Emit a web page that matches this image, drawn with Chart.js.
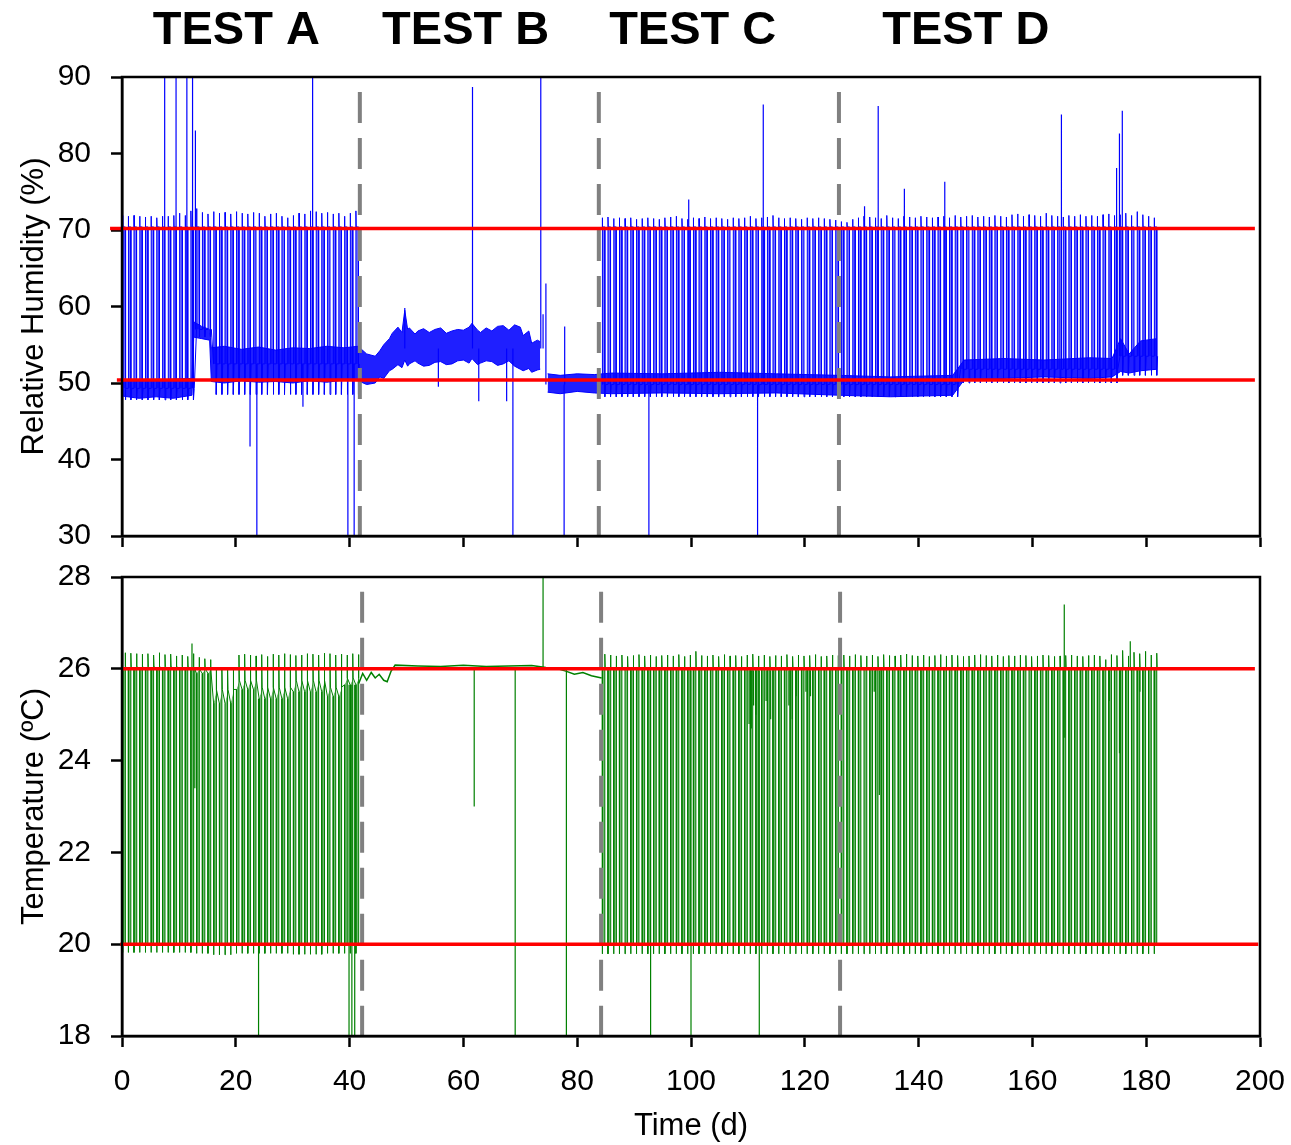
<!DOCTYPE html>
<html lang="en">

<head>
    <meta charset="UTF-8">
    <title>Relative humidity and temperature - Tests A to D</title>
    <script src="https://cdn.jsdelivr.net/npm/chart.js"></script>
    <style>
        body { margin: 0; background: #fff; }
        .wrap { position: relative; width: 1291px; height: 1145px; }
        #rhBox { position: absolute; left: 0; top: 0; width: 1291px; height: 550px; }
        #tBox { position: absolute; left: 0; top: 550px; width: 1291px; height: 595px; }
    </style>
</head>

<body>
    <div class="wrap">
        <div id="rhBox"><canvas id="rhChart"></canvas></div>
        <div id="tBox"><canvas id="tChart"></canvas></div>
    </div>
    <script>
        // ---- data ----
        const testNames = ['TEST A', 'TEST B', 'TEST C', 'TEST D'];
        const testNameDays = [20.1, 60.4, 100.3, 148.3];
        const rhDividers = [41.8, 83.8, 126.0];
        const tDividers = [42.2, 84.2, 126.2];
        const rhLimits = [70.2, 50.4];
        const tLimits = [26.0, 20.0];

        // daily cold phases: first one of Test A and first one of Tests C-D (days)
        const cycleStart = [0.1, 84.4];
        const coldLength = 0.45;

        // relative humidity (%) reached at the start of each cold phase
        const rhPeakA = [
            71.9, 71.8, 71.9, 71.8, 71.7, 71.8, 71.6, 71.8, 71.8, 71.9,
            72.2, 71.9, 72.5, 72.8, 72.3, 72.1, 72.4, 72.2, 72.3, 72.1,
            72.4, 72.2, 72.1, 72.3, 72.2, 71.8, 72.1, 72.2, 71.8, 71.6,
            71.9, 72.2, 72.1, 72.5, 72.4, 72.2, 72.3, 72.1, 72.2, 71.8,
            72.2, 72.5
        ];
        const rhPeakCD = [
            71.6, 71.7, 71.5, 71.6, 71.5, 71.6, 71.4, 71.5, 71.6, 71.5,
            71.4, 71.6, 71.7, 71.8, 71.5, 71.4, 71.6, 71.5, 71.7, 71.5,
            71.6, 71.5, 71.4, 71.6, 71.5, 71.6, 71.8, 71.5, 71.6, 71.7,
            71.9, 71.6, 71.5, 71.6, 71.5, 71.4, 71.6, 71.5, 71.6, 71.5,
            71.4, 71.3,
            71.1, 71.0, 71.4, 71.6, 71.8, 71.7, 71.6, 71.5, 71.9, 71.6,
            71.5, 71.8, 71.7, 71.6, 71.8, 71.7, 71.6, 71.7, 71.8, 71.6,
            71.9, 71.7, 71.8, 71.9, 71.7, 71.8, 71.7, 71.9, 71.8, 71.7,
            72.0, 72.1, 71.8, 72.0, 71.9, 71.8, 72.2, 71.9, 71.8, 71.7,
            71.9, 71.8, 72.0, 71.8, 71.9, 71.8, 72.0, 72.1, 71.9, 72.0,
            72.2, 71.9, 72.4, 72.0, 71.8, 71.6
        ];
        const rhHold = 70.4;
        // RH level between cold phases (step changes at these days)
        const rhSegDays = [0, 12.5, 15.5, 41.5, 74.5, 147, 175];
        const rhBaseVals = [49.3, 57.0, 52.5, 54.5, 49.8, 51.8, 53.5];
        const rhDipVals = [47.8, 56.0, 48.5, 50.0, 48.2, 50.0, 51.0];

        // envelope of the RH noise band
        const rhBandDays = [0, 3, 6, 9, 12.3, 12.6, 14, 15.4, 15.7, 18,
            21, 24, 27, 30, 33, 36, 39, 41.5, 43, 44.5,
            45.3, 46, 47, 47.5, 48.5, 49.2, 49.7, 50.2, 50.5, 51.5,
            52, 53, 54, 55, 56, 57, 58, 59, 60, 61,
            61.5, 62.5, 63, 64, 65, 66, 67, 68, 69, 70,
            70.5, 71.5, 72, 73, 73.5, 73.6, 74.8, 77, 80, 83,
            86, 95, 105, 115, 126, 135, 146, 148, 155, 162,
            170, 174, 175.5, 177, 179, 181.9];
        const rhBandLo = [48.3, 48.0, 48.2, 48.0, 48.4, 56.0, 55.8, 55.6, 50.2, 50.0,
            50.3, 50.1, 50.2, 50.0, 50.3, 50.1, 50.4, 50.3, 49.8, 50.0,
            50.8, 50.6, 51.6, 51.8, 52.4, 52.0, 53.0, 52.2, 52.5, 52.9,
            52.6, 52.2, 52.3, 52.7, 52.8, 52.4, 52.5, 52.9, 53.0, 52.6,
            53.2, 52.4, 52.6, 52.9, 52.8, 52.3, 52.5, 52.9, 52.2, 51.8,
            51.6, 51.9, 51.4, 51.7, 51.8, null, 48.8, 48.6, 48.9, 48.7,
            48.6, 48.7, 48.6, 48.7, 48.4, 48.2, 48.4, 50.4, 50.6, 50.8,
            50.6, 50.8, 51.5, 51.3, 51.6, 51.8];
        const rhBandHi = [50.2, 50.4, 50.3, 50.5, 50.6, 58.0, 57.4, 57.0, 54.6, 54.8,
            54.4, 54.7, 54.3, 54.6, 54.5, 54.8, 54.6, 54.8, 53.8, 53.5,
            54.2, 55.0, 55.8, 56.5, 57.3, 56.6, 59.5, 57.0, 57.2, 56.4,
            56.8, 57.1, 56.6, 57.0, 57.2, 56.5, 56.8, 57.0, 56.9, 57.3,
            57.8, 56.9, 56.6, 57.2, 56.8, 57.4, 57.5, 56.9, 57.6, 57.3,
            56.2, 56.8, 55.2, 55.6, 55.4, null, 51.2, 51.0, 51.2, 51.1,
            51.3, 51.2, 51.4, 51.2, 51.0, 50.8, 51.0, 53.0, 53.2, 53.0,
            53.3, 53.2, 55.8, 53.8, 55.5, 55.8];

        // isolated RH readings
        const rhSpikeDays = [7.5, 9.5, 11.4, 12.4, 12.9, 22.5, 23.7, 31.8, 33.5, 39.7,
            40.8, 49.7, 55.6, 61.6, 62.7, 67.6, 68.7, 73.6, 74.0, 74.5,
            77.7, 77.8, 92.6, 99.6, 111.7, 112.7, 130.5, 132.9, 137.5, 144.6,
            165.1, 174.8, 175.3, 175.8];
        const rhSpikeVals = [95, 95, 95, 95, 83, 41.7, 28, 46.9, 95, 28,
            28, 59.8, 49.5, 88.7, 47.6, 47.6, 28, 95, 59, 63,
            28, 57.4, 28, 74, 28, 86.4, 73.1, 86.2, 75.4, 76.3,
            85.1, 78.1, 82.6, 85.6];

        // temperature (ºC) overshoot after each cold phase
        const tHighA = [
            26.35, 26.34, 26.33, 26.32, 26.33, 26.30, 26.35, 26.31, 26.32, 26.28,
            26.30, 26.27, 26.33, 26.25, 26.22, 26.20, 26.02, 26.02, 26.03, 26.02,
            26.30, 26.32, 26.30, 26.28, 26.31, 26.27, 26.32, 26.30, 26.33, 26.31,
            26.29, 26.30, 26.33, 26.32, 26.30, 26.34, 26.33, 26.30, 26.32, 26.30,
            26.33, 26.31
        ];
        const tHighCD = [
            26.32, 26.30, 26.28, 26.30, 26.27, 26.29, 26.31, 26.28, 26.30, 26.27,
            26.29, 26.30, 26.28, 26.31, 26.27, 26.30, 26.38, 26.29, 26.28, 26.30,
            26.27, 26.31, 26.28, 26.29, 26.27, 26.30, 26.32, 26.28, 26.30, 26.27,
            26.29, 26.28, 26.31, 26.27, 26.30, 26.28, 26.29, 26.31, 26.27, 26.28,
            26.30, 26.29,
            26.30, 26.28, 26.31, 26.29, 26.28, 26.30, 26.27, 26.31, 26.29, 26.28,
            26.30, 26.32, 26.29, 26.28, 26.30, 26.27, 26.29, 26.31, 26.28, 26.30,
            26.29, 26.27, 26.28, 26.30, 26.31, 26.29, 26.28, 26.30, 26.27, 26.29,
            26.28, 26.30, 26.29, 26.27, 26.28, 26.30, 26.29, 26.27, 26.28, 26.29,
            26.30, 26.28, 26.27, 26.29, 26.30, 26.28, 26.20, 26.31, 26.29, 26.40,
            26.28, 26.36, 26.33, 26.38, 26.30, 26.34
        ];
        const tHold = 20.0;
        const tSegDays = [0, 13, 16, 20, 24, 30, 36, 39, 41.5, 84];
        const tBaseVals = [26.0, 25.9, 25.25, 25.55, 25.35, 25.5, 25.4, 25.65, 26.02, 25.97];
        const tSettleVals = [26.05, 26.0, 25.55, 25.75, 25.6, 25.75, 25.6, 25.8, 26.02, 26.02];
        const tMinVals = [19.82, 19.8, 19.77, 19.8, 19.8, 19.78, 19.8, 19.8, 19.8, 19.79];

        // Test B temperature (no cycling)
        const tFlatDays = [41.6, 42.3, 43, 43.8, 44.5, 45.2, 46, 46.6, 47.3, 48,
            52, 56, 60, 64, 68, 72, 74.5, 76, 78, 79.5, 81, 82.5, 84.3];
        const tFlatVals = [25.68, 25.9, 25.75, 25.92, 25.8, 25.88, 25.75, 25.72, 25.95, 26.08,
            26.06, 26.05, 26.08, 26.05, 26.06, 26.07, 26.03, 26.02, 25.95, 25.88, 25.92, 25.85, 25.8];

        // isolated temperature readings
        const tSpikeDays = [12.3, 12.8, 24.0, 39.9, 40.4, 40.9, 61.9, 69.1, 74.0, 78.1,
            92.9, 100.0, 110.2, 110.6, 111.0, 111.4, 112.0, 113.2, 114.0, 117.2,
            117.8, 118.5, 120.2, 121.0, 132.2, 133.1, 165.6, 165.7, 173.5, 175.3,
            177.2, 178.9];
        const tSpikeVals = [26.55, 23.4, 17, 17, 17, 17, 23.0, 17, 29, 17,
            17, 17, 24.8, 24.7, 25.2, 25.0, 17, 25.3, 24.9, 25.2,
            24.9, 25.4, 25.5, 25.4, 25.5, 23.25, 27.4, 24.5, 25.3, 24.16,
            26.6, 25.5];

        // ---- helpers ----
        const FONT = "Arial, 'Liberation Sans', sans-serif";
        Chart.defaults.font.family = FONT;
        Chart.defaults.color = '#000';
        Chart.defaults.animation = false;

        function stepValue(days, vals, d) {
            let v = vals[0];
            for (let i = 0; i < days.length; i++) {
                if (d >= days[i]) v = vals[i];
            }
            return v;
        }

        // line through every daily cycle; withPulse=false gives the level between cycles only
        function rhCyclePoints(withPulse) {
            const pts = [];
            [rhPeakA, rhPeakCD].forEach((peaks, k) => {
                peaks.forEach((peak, i) => {
                    const d = cycleStart[k] + i;
                    const base = stepValue(rhSegDays, rhBaseVals, d);
                    const dip = stepValue(rhSegDays, rhDipVals, d);
                    if (withPulse) {
                        pts.push({ x: d, y: base }, { x: d + 0.01, y: peak }, { x: d + 0.06, y: rhHold },
                            { x: d + coldLength, y: rhHold }, { x: d + coldLength + 0.01, y: dip }, { x: d + 0.6, y: base });
                    } else {
                        pts.push({ x: d, y: base }, { x: d + 0.6, y: base });
                    }
                });
                pts.push({ x: cycleStart[k] + peaks.length, y: null });
            });
            return pts;
        }

        function tCyclePoints(withPulse) {
            const pts = [];
            [tHighA, tHighCD].forEach((highs, k) => {
                highs.forEach((high, i) => {
                    const d = cycleStart[k] + i;
                    const base = stepValue(tSegDays, tBaseVals, d);
                    const settle = stepValue(tSegDays, tSettleVals, d);
                    const low = stepValue(tSegDays, tMinVals, d);
                    if (withPulse) {
                        pts.push({ x: d, y: base }, { x: d + 0.005, y: low }, { x: d + 0.05, y: tHold },
                            { x: d + coldLength, y: tHold }, { x: d + coldLength + 0.005, y: high }, { x: d + coldLength + 0.08, y: settle });
                    } else {
                        pts.push({ x: d, y: base }, { x: d + coldLength + 0.08, y: settle });
                    }
                });
                pts.push({ x: cycleStart[k] + highs.length, y: null });
            });
            return pts;
        }

        function spikePoints(days, vals, segDays, segVals) {
            const pts = [];
            days.forEach((d, i) => {
                const b = stepValue(segDays, segVals, d);
                pts.push({ x: d, y: b }, { x: d, y: vals[i] }, { x: d, y: b }, { x: d, y: null });
            });
            return pts;
        }

        function pairs(xs, ys) {
            return xs.map((x, i) => ({ x: x, y: ys[i] }));
        }

        function limitSet(y, from, to) {
            return {
                data: [{ x: from, y: y }, { x: to, y: y }],
                borderColor: '#ff0000', borderWidth: 3.5, pointRadius: 0, clip: false, order: 0
            };
        }

        function dividerSet(x, top, bottom) {
            return {
                data: [{ x: x, y: top }, { x: x, y: bottom }],
                borderColor: '#808080', borderWidth: 4, borderDash: [31, 15], pointRadius: 0, order: 1
            };
        }

        // invisible line used only as the edge of the pulse shading
        function levelSet(points) {
            return { data: points, borderColor: 'rgba(0, 0, 0, 0)', borderWidth: 0, spanGaps: false, order: 5 };
        }

        const framePlugin = {
            id: 'frame',
            afterDatasetsDraw(chart) {
                const a = chart.chartArea;
                const ctx = chart.ctx;
                ctx.save();
                ctx.strokeStyle = '#000';
                ctx.lineWidth = 2.5;
                ctx.strokeRect(a.left, a.top, a.right - a.left, a.bottom - a.top);
                ctx.restore();
            }
        };

        const testNamePlugin = {
            id: 'testNames',
            afterDraw(chart) {
                const ctx = chart.ctx;
                ctx.save();
                ctx.font = 'bold 47px ' + FONT;
                ctx.fillStyle = '#000';
                ctx.textAlign = 'center';
                ctx.textBaseline = 'middle';
                testNames.forEach((t, i) => {
                    ctx.fillText(t, chart.scales.x.getPixelForValue(testNameDays[i]), 31);
                });
                ctx.restore();
            }
        };

        // fixed axis sizes, and no extra room for overhanging tick labels
        function yAxis(min, max, step, title) {
            return {
                type: 'linear', min: min, max: max,
                ticks: { stepSize: step, padding: 20, font: { size: 30 }, color: '#000' },
                grid: { drawOnChartArea: false, drawTicks: true, tickLength: 11, tickWidth: 2.5, tickColor: '#000' },
                border: { display: true, color: '#000', width: 2.5 },
                title: { display: true, text: title, font: { size: 31 }, color: '#000', padding: { top: 16, bottom: 0 } },
                afterFit: s => { s.width = 122; s.paddingTop = 0; s.paddingBottom = 0; }
            };
        }

        function xAxis(showLabels) {
            return {
                type: 'linear', min: 0, max: 200,
                ticks: { stepSize: 20, display: showLabels, padding: 17, font: { size: 30 }, color: '#000', maxRotation: 0 },
                grid: { drawOnChartArea: false, drawTicks: true, tickLength: 11, tickWidth: 2.5, tickColor: '#000' },
                border: { display: true, color: '#000', width: 2.5 },
                title: { display: showLabels, text: 'Time (d)', font: { size: 31 }, color: '#000', padding: { top: 0, bottom: 0 } },
                afterFit: s => { s.height = showLabels ? 109 : 14; s.paddingLeft = 0; s.paddingRight = 0; }
            };
        }

        const commonOptions = {
            responsive: true,
            maintainAspectRatio: false,
            events: [],
            plugins: { legend: { display: false }, tooltip: { enabled: false } },
            elements: { line: { tension: 0 }, point: { radius: 0 } }
        };

        // ---- relative humidity ----
        const rhSets = [
            limitSet(rhLimits[0], -2.1, 199.1),
            limitSet(rhLimits[1], -0.9, 199.1),
            ...rhDividers.map(x => dividerSet(x, 88.04, 30)),
            levelSet(rhCyclePoints(false))
        ];
        const rhLevelIndex = rhSets.length - 1;
        rhSets.push(
            {
                data: rhCyclePoints(true), borderColor: '#0000ff', borderWidth: 1, spanGaps: false, order: 2,
                fill: { target: rhLevelIndex, above: 'rgba(0, 0, 255, 0.55)', below: 'rgba(0, 0, 0, 0)' }
            },
            {
                data: spikePoints(rhSpikeDays, rhSpikeVals, rhSegDays, rhBaseVals),
                borderColor: '#0000ff', borderWidth: 1.2, spanGaps: false, order: 3
            },
            { data: pairs(rhBandDays, rhBandLo), borderColor: '#0000ff', borderWidth: 1, spanGaps: false, order: 4 },
            {
                data: pairs(rhBandDays, rhBandHi), borderColor: '#0000ff', borderWidth: 1, spanGaps: false, order: 4,
                fill: '-1', backgroundColor: 'rgba(0, 0, 255, 0.88)'
            }
        );

        new Chart(document.getElementById('rhChart'), {
            type: 'line',
            data: { datasets: rhSets },
            options: {
                ...commonOptions,
                layout: { padding: { top: 77, right: 31, left: 0, bottom: 0 } },
                scales: { x: xAxis(false), y: yAxis(30, 90, 10, 'Relative Humidity (%)') }
            },
            plugins: [framePlugin, testNamePlugin]
        });

        // ---- temperature ----
        const tSets = [
            limitSet(tLimits[0], 0, 199.1),
            limitSet(tLimits[1], -0.3, 199.7),
            ...tDividers.map(x => dividerSet(x, 27.68, 18)),
            levelSet(tCyclePoints(false))
        ];
        const tLevelIndex = tSets.length - 1;
        tSets.push(
            {
                data: tCyclePoints(true), borderColor: '#008000', borderWidth: 1, spanGaps: false, order: 2,
                fill: { target: tLevelIndex, above: 'rgba(0, 0, 0, 0)', below: 'rgba(0, 128, 0, 0.55)' }
            },
            {
                data: spikePoints(tSpikeDays, tSpikeVals, tSegDays, tBaseVals),
                borderColor: '#008000', borderWidth: 1.2, spanGaps: false, order: 3
            },
            { data: pairs(tFlatDays, tFlatVals), borderColor: '#008000', borderWidth: 1.5, order: 3 }
        );

        new Chart(document.getElementById('tChart'), {
            type: 'line',
            data: { datasets: tSets },
            options: {
                ...commonOptions,
                layout: { padding: { top: 27, right: 31, left: 0, bottom: 0 } },
                scales: { x: xAxis(true), y: yAxis(18, 28, 2, 'Temperature (ºC)') }
            },
            plugins: [framePlugin]
        });
    </script>
</body>

</html>
